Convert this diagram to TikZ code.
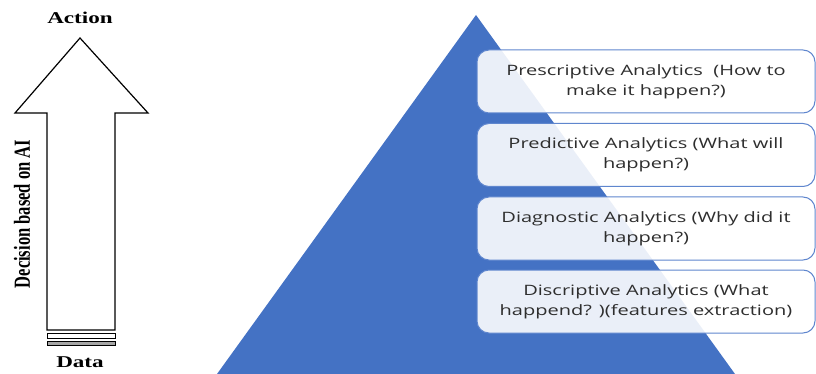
\documentclass[tikz,border=0pt]{standalone}
\usepackage{fontspec}
\usepackage{xcolor}
\usepackage{tikz}
\usetikzlibrary{shapes}
\usetikzlibrary{arrows}

\newfontfamily\boxfont[FakeStretch=1.4]{Open Sans}
\newfontfamily\widefont[FakeStretch=1.4]{Liberation Serif}
\newfontfamily\narrowfont[FakeStretch=0.72]{Liberation Serif}

\definecolor{pyrblue}{HTML}{4472C4}
\definecolor{boxline}{HTML}{5F86CE}
\definecolor{boxtext}{HTML}{2E2E2E}

\tikzset{
    level/.style = {draw = boxline, line width = 1pt, fill = white, fill opacity = 0.89,
        text opacity = 1, rounded corners = 12pt, minimum width = 338pt,
        minimum height = 63pt, align = center, text = boxtext,
        font = \boxfont\fontsize{14.3}{20}\selectfont},
    endlabel/.style = {font = \widefont\bfseries\fontsize{16.5}{18}\selectfont},
    shaft/.style = {draw = black, line width = 1.2pt, fill = white}
}

\begin{document}
\begin{tikzpicture}[x = 1pt, y = -1pt]
        \useasboundingbox (0, 0) rectangle (816, 374);

        % pyramid
        \coordinate (apex) at (476, 15);
        \coordinate (baseL) at (217, 374);
        \coordinate (baseR) at (735, 374);
        \fill[pyrblue] (apex) -- (baseL) -- (baseR) -- cycle;

        % levels
        \node[level] (presc) at (646, 81.5) {Prescriptive Analytics \ (How to\\make it happen?)};
        \node[level] (pred) at (646, 155) {Predictive Analytics (What will\\happen?)};
        \node[level] (diag) at (646, 228.5) {Diagnostic Analytics (Why did it\\happen?)};
        \node[level] (descr) at (646, 301.5) {Discriptive Analytics (What\\happend? )(features extraction)};

        % arrow
        \draw[shaft, line join = miter] (47, 330) -- (47, 113) -- (15, 113) -- (80, 38)
            -- (148, 113) -- (115, 113) -- (115, 330) -- cycle;
        \draw[line width = 1pt] (47, 333) rectangle (115, 338.5);
        \filldraw[line width = 1pt, fill = gray!70] (47, 341) rectangle (115, 345);

        \node[endlabel] (action) at (80, 18) {Action};
        \node[endlabel] (data) at (80, 362) {Data};
        \node[rotate = 90, font = \narrowfont\bfseries\fontsize{23}{24}\selectfont] (decision)
            at (22, 214) {Decision based on AI};
    \end{tikzpicture}
\end{document}
